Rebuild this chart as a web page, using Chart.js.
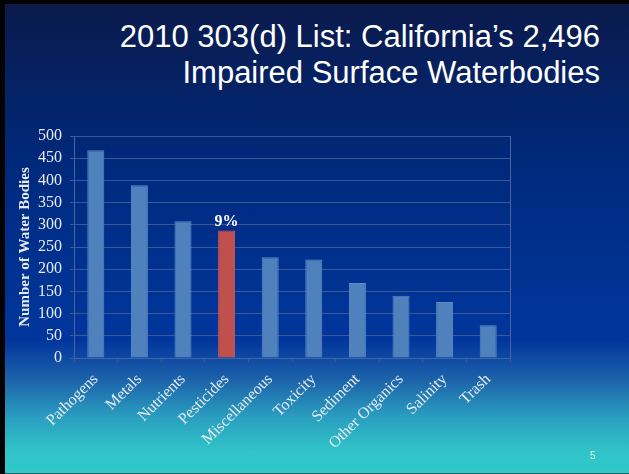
<!DOCTYPE html>
<html>
<head>
<meta charset="utf-8">
<script src="https://cdn.jsdelivr.net/npm/chart.js@4.4.1/dist/chart.umd.min.js"></script>
<style>
  html, body { margin: 0; padding: 0; }
  #slide {
    position: relative;
    width: 629px;
    height: 474px;
    overflow: hidden;
    background: linear-gradient(to bottom, #0b1a4a 0%, #00297c 35%, #00318f 55%, #02369d 72%, #1c62aa 80%, #2a9ebf 88%, #30c3c8 95%, #31c9c9 100%);
    box-shadow: inset 5px 4px 0 #030303, inset 0 -1px 0 #1b5d63;
  }
  #title {
    position: absolute;
    right: 29px;
    top: 19px;
    font-family: "Liberation Sans", Arial, sans-serif;
    font-size: 31px;
    line-height: 36px;
    color: #ffffff;
    text-align: right;
    white-space: nowrap;
  }
  #pagenum {
    position: absolute;
    left: 590px;
    top: 450px;
    font-family: "Liberation Sans", Arial, sans-serif;
    font-size: 10px;
    color: #d8f4f4;
  }
  canvas { position: absolute; left: 0; top: 0; }
</style>
</head>
<body>
<div id="slide">
  <div id="title">2010 303(d) List: California’s 2,496<br>Impaired Surface Waterbodies</div>
  <canvas id="chart" width="629" height="474"></canvas>
  <div id="pagenum">5</div>
</div>
<script>
const categories = ['Pathogens', 'Metals', 'Nutrients', 'Pesticides', 'Miscellaneous', 'Toxicity', 'Sediment', 'Other Organics', 'Salinity', 'Trash'];
const waterBodies = [468, 389, 308, 287, 227, 222, 169, 140, 126, 74];
const barNotes = ['', '', '', '9%', '', '', '', '', '', ''];
const yTicks = [0, 50, 100, 150, 200, 250, 300, 350, 400, 450, 500];

const blueBar = '#4f81bd';
const redBar = '#c0504d';
const gridColor = '#3b5896';
const textColor = '#e6ebf3';
const serif = '"Liberation Serif", "Times New Roman", serif';

const barColors = categories.map((c, i) => barNotes[i] ? redBar : blueBar);

const notesPlugin = {
  id: 'barNotes',
  afterDatasetsDraw(chart) {
    const ctx = chart.ctx;
    const meta = chart.getDatasetMeta(0);
    ctx.save();
    ctx.font = 'bold 16px ' + serif;
    ctx.fillStyle = '#ffffff';
    ctx.textAlign = 'center';
    ctx.textBaseline = 'bottom';
    meta.data.forEach((bar, i) => {
      if (barNotes[i]) ctx.fillText(barNotes[i], bar.x, bar.y - 1);
    });
    ctx.restore();
  }
};

const ctx = document.getElementById('chart').getContext('2d');
const myChart = new Chart(ctx, {
  type: 'bar',
  data: {
    labels: categories,
    datasets: [{
      data: waterBodies,
      backgroundColor: barColors,
      borderColor: barColors.map(c => c === blueBar ? '#5b8cc8' : '#c85a57'),
      borderWidth: 1,
      barPercentage: 0.39,
      categoryPercentage: 1.0
    }]
  },
  options: {
    responsive: false,
    animation: false,
    layout: {
      padding: { top: 136, right: 119, bottom: 0, left: 0 }
    },
    plugins: {
      legend: { display: false },
      tooltip: { enabled: false },
      title: { display: false }
    },
    scales: {
      x: {
        afterFit: (scale) => { scale.height = 116; },
        grid: {
          display: true,
          drawOnChartArea: false,
          color: gridColor,
          tickLength: 4
        },
        border: { color: '#4a64a0' },
        ticks: {
          color: textColor,
          autoSkip: false,
          maxRotation: 45,
          minRotation: 45,
          padding: 8,
          font: { family: serif, size: 16 }
        }
      },
      y: {
        min: 0,
        max: 500,
        afterFit: (scale) => { scale.width = 74; },
        afterBuildTicks: (scale) => { scale.ticks = yTicks.map(v => ({ value: v })); },
        grid: {
          color: gridColor,
          tickLength: 4
        },
        border: { color: '#4a64a0' },
        ticks: {
          color: textColor,
          padding: 8,
          font: { family: serif, size: 16 }
        },
        title: {
          display: true,
          text: 'Number of Water Bodies',
          color: textColor,
          padding: { top: 16, bottom: 0 },
          font: { family: serif, size: 15, weight: 'bold' }
        }
      },
      yRight: {
        position: 'right',
        min: 0,
        max: 500,
        afterFit: (scale) => { scale.width = 0; },
        grid: { display: false },
        ticks: { display: false },
        border: { display: true, color: '#4a64a0' }
      }
    }
  },
  plugins: [notesPlugin]
});
</script>
</body>
</html>
